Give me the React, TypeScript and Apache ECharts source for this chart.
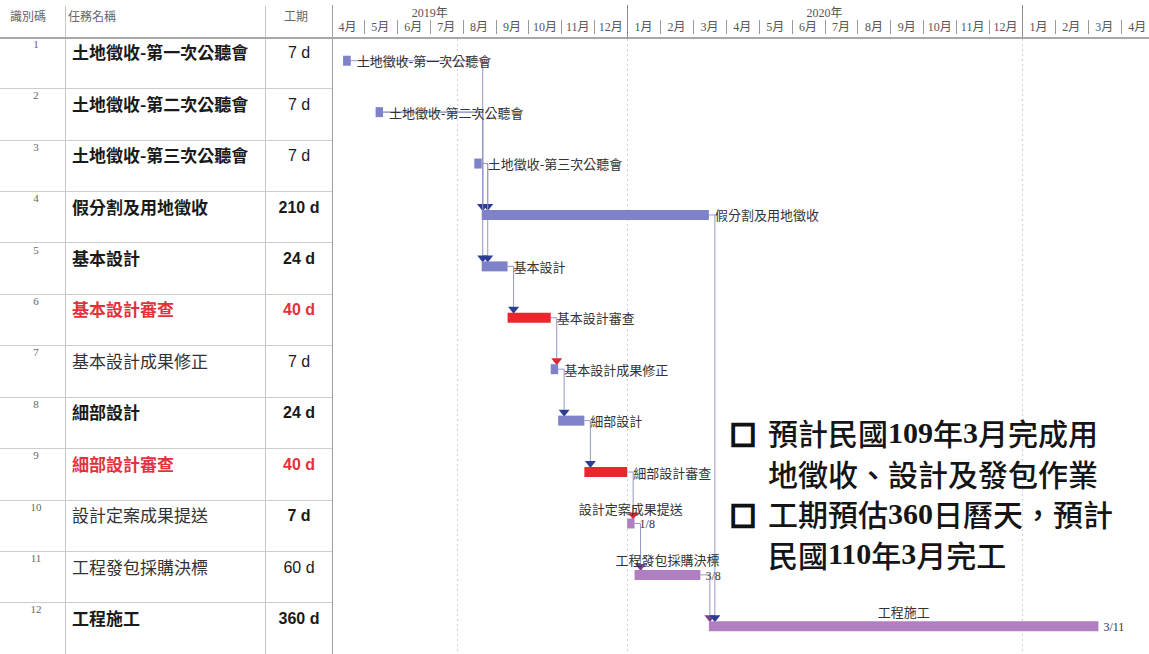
import React, { useEffect, useRef } from 'react';
import * as echarts from 'echarts';

// ---------------- data ----------------
const TASK_IDS = [1, 2, 3, 4, 5, 6, 7, 8, 9, 10, 11, 12];
const TASK_NAMES = [
  '土地徵收-第一次公聽會',
  '土地徵收-第二次公聽會',
  '土地徵收-第三次公聽會',
  '假分割及用地徵收',
  '基本設計',
  '基本設計審查',
  '基本設計成果修正',
  '細部設計',
  '細部設計審查',
  '設計定案成果提送',
  '工程發包採購決標',
  '工程施工',
];
const DURATIONS = [7, 7, 7, 210, 24, 40, 7, 24, 40, 7, 60, 360];
const START_DATES = [
  '2019-04-12', '2019-05-12', '2019-08-12', '2019-08-19', '2019-08-19', '2019-09-12',
  '2019-10-22', '2019-10-29', '2019-11-22', '2020-01-01', '2020-01-08', '2020-03-16',
];
const END_DATES = [
  '2019-04-19', '2019-05-19', '2019-08-19', '2020-03-16', '2019-09-12', '2019-10-22',
  '2019-10-29', '2019-11-22', '2020-01-01', '2020-01-08', '2020-03-08', '2021-03-11',
];
const TASK_KIND = ['plan', 'plan', 'plan', 'plan', 'plan', 'review', 'plan', 'plan', 'review', 'procure', 'procure', 'procure'];
const NAME_BOLD = [true, true, true, true, true, true, false, true, true, false, false, true];
const DURATION_BOLD = [false, false, false, true, true, true, false, true, true, true, false, true];
const FINISH_LABELS = ['', '', '', '', '', '', '', '', '', '1/8', '3/8', '3/11'];
// [predecessor id, successor id]
const LINKS = [
  [1, 4], [2, 4], [3, 4], [2, 5], [3, 5], [5, 6], [6, 7], [7, 8], [8, 9],
  [9, 10], [10, 11], [11, 12], [4, 12],
];
const MONTH_LABELS = [
  '4月', '5月', '6月', '7月', '8月', '9月', '10月', '11月', '12月',
  '1月', '2月', '3月', '4月', '5月', '6月', '7月', '8月', '9月', '10月', '11月', '12月',
  '1月', '2月', '3月', '4月',
];
const YEAR_LABELS = ['2019年', '2020年'];
const YEAR_MIDS = ['2019-07-01', '2020-07-01'];
const GUIDE_DATES = ['2019-07-27', '2020-01-01', '2021-01-01'];
const TABLE_HEADERS = ['識別碼', '任務名稱', '工期'];
const NOTE_LINES = [
  '預計民國109年3月完成用',
  '地徵收、設計及發包作業',
  '工期預估360日曆天，預計',
  '民國110年3月完工',
];
const NOTE_BULLETS = [true, false, true, false];

// ---------------- helpers ----------------
const BASE_YEAR = 2019;
const BASE_MONTH = 4;
function monthPos(s: string): number {
  const [y, m, d] = s.split('-').map(Number);
  const dim = new Date(y, m, 0).getDate();
  return (y - BASE_YEAR) * 12 + (m - BASE_MONTH) + (d - 1) / dim;
}

const KIND_COLOR: Record<string, string> = { plan: '#7f82c8', review: '#e8262b', procure: '#b07fc2' };
const ARROW_COLOR: Record<string, string> = { plan: '#2d3c94', review: '#e3242b', procure: '#7b3f8e' };
const CJK = "'Noto Sans CJK TC', 'Noto Sans CJK SC', sans-serif";
const SERIF = "'Liberation Serif', 'Noto Sans CJK TC', serif";
const SANS = "'Liberation Sans', 'Noto Sans CJK TC', sans-serif";

const X_MIN = 0.03;
const X_MAX = 24.86;
const GRID_TOP = 37;
const ROW_H = 51.7;
const TABLE_W = 332;
const BAR_H = 10;
const BAR_SHIFT = -2;

function buildOption() {
  const rows = TASK_NAMES.length;
  const gridH = rows * ROW_H;

  const barSeries = {
    type: 'custom',
    xAxisIndex: 0,
    yAxisIndex: 0,
    silent: true,
    z: 3,
    encode: { x: [1, 2], y: 0 },
    data: TASK_NAMES.map((_, i) => [i, monthPos(START_DATES[i]), monthPos(END_DATES[i])]),
    renderItem: (params: any, api: any) => {
      const i = api.value(0);
      const s = api.coord([api.value(1), i]);
      const e = api.coord([api.value(2), i]);
      const cy = s[1] + BAR_SHIFT;
      return {
        type: 'rect',
        shape: { x: s[0], y: cy - BAR_H / 2, width: Math.max(e[0] - s[0], 1), height: BAR_H },
        style: { fill: KIND_COLOR[TASK_KIND[i]] },
      };
    },
  };

  const barLabelSeries = {
    type: 'custom',
    xAxisIndex: 0,
    yAxisIndex: 0,
    silent: true,
    z: 5,
    encode: { x: [1, 2], y: 0 },
    data: TASK_NAMES.map((_, i) => [i, monthPos(START_DATES[i]), monthPos(END_DATES[i])]),
    renderItem: (params: any, api: any) => {
      const i = api.value(0);
      const s = api.coord([api.value(1), i]);
      const e = api.coord([api.value(2), i]);
      const cy = s[1] + BAR_SHIFT;
      const base = { fontFamily: CJK, fontSize: 13, fill: '#333' };
      if (FINISH_LABELS[i]) {
        return {
          type: 'group',
          children: [
            { type: 'text', x: (s[0] + e[0]) / 2, y: cy - 15, style: { ...base, lineHeight: 14, text: TASK_NAMES[i], align: 'center', verticalAlign: 'middle' } },
            { type: 'text', x: e[0] + 5, y: cy + 1, style: { fontFamily: SERIF, fontSize: 12, lineHeight: 13, fill: '#333', text: FINISH_LABELS[i], align: 'left', verticalAlign: 'middle' } },
          ],
        };
      }
      return {
        type: 'text',
        x: e[0] + 6,
        y: cy,
        style: { ...base, text: TASK_NAMES[i], align: 'left', verticalAlign: 'middle' },
      };
    },
  };

  const linkSeries = {
    type: 'custom',
    xAxisIndex: 0,
    yAxisIndex: 0,
    silent: true,
    z: 2,
    encode: { x: 0, y: 1 },
    data: LINKS.map((l, k) => [monthPos(END_DATES[l[0] - 1]), l[0] - 1, k]),
    renderItem: (params: any, api: any) => {
      const k = api.value(2);
      const p = LINKS[k][0] - 1;
      const q = LINKS[k][1] - 1;
      const pe = api.coord([monthPos(END_DATES[p]), p]);
      const qs = api.coord([monthPos(START_DATES[q]), q]);
      const py = pe[1] + BAR_SHIFT;
      const qTop = qs[1] + BAR_SHIFT - BAR_H / 2;
      const X = Math.max(pe[0] + 6, qs[0] + 1);
      const at = qTop - 6;
      return {
        type: 'group',
        children: [
          {
            type: 'polyline',
            shape: { points: [[pe[0], py], [X, py], [X, at]] },
            style: { stroke: '#9497c7', lineWidth: 1, fill: null },
          },
          {
            type: 'polygon',
            shape: { points: [[X - 5.5, at], [X + 5.5, at], [X, at + 7]] },
            style: { fill: ARROW_COLOR[TASK_KIND[p]] },
          },
        ],
      };
    },
  };

  const guideSeries = {
    type: 'custom',
    xAxisIndex: 0,
    yAxisIndex: 0,
    silent: true,
    z: 1,
    encode: { x: 0, y: 1 },
    data: GUIDE_DATES.map((d) => [monthPos(d), 0]),
    renderItem: (params: any, api: any) => {
      const cs = params.coordSys;
      const x = Math.round(api.coord([api.value(0), 0])[0]) + 0.5;
      return {
        type: 'line',
        shape: { x1: x, y1: cs.y + 2, x2: x, y2: cs.y + cs.height },
        style: { stroke: '#cfcfcf', lineWidth: 1, lineDash: [2, 3] },
      };
    },
  };

  const tableSeries = {
    type: 'custom',
    xAxisIndex: 1,
    yAxisIndex: 1,
    silent: true,
    z: 3,
    encode: { x: 1, y: 0 },
    data: TASK_NAMES.map((_, i) => [i, 0]),
    renderItem: (params: any, api: any) => {
      const i = api.value(0);
      const c = api.coord([0, i]);
      const top = c[1] - ROW_H / 2;
      const red = TASK_KIND[i] === 'review';
      const color = red ? '#e3323c' : NAME_BOLD[i] ? '#1a1a1a' : '#333';
      return {
        type: 'group',
        children: [
          {
            type: 'text',
            x: api.coord([36, i])[0],
            y: top + 7,
            style: { text: String(TASK_IDS[i]), fontFamily: SERIF, fontSize: 11, fill: '#666', align: 'center', verticalAlign: 'middle' },
          },
          {
            type: 'text',
            x: api.coord([72, i])[0],
            y: top + 15,
            style: { text: TASK_NAMES[i], fontFamily: CJK, fontSize: 17, fontWeight: NAME_BOLD[i] ? 'bold' : 'normal', fill: color, align: 'left', verticalAlign: 'middle' },
          },
          {
            type: 'text',
            x: api.coord([299, i])[0],
            y: top + 16,
            style: { text: DURATIONS[i] + ' d', fontFamily: SANS, fontSize: 16, fontWeight: DURATION_BOLD[i] ? 'bold' : 'normal', fill: red ? '#e3323c' : '#1a1a1a', align: 'center', verticalAlign: 'middle' },
          },
        ],
      };
    },
  };

  const monthSeries = {
    type: 'custom',
    xAxisIndex: 2,
    yAxisIndex: 2,
    silent: true,
    z: 3,
    encode: { x: 0, y: 1 },
    data: MONTH_LABELS.map((_, i) => [i, 0.5]),
    renderItem: (params: any, api: any) => {
      const i = api.value(0);
      const cs = params.coordSys;
      const x0 = api.coord([i, 0])[0];
      const x1 = api.coord([i + 1, 0])[0];
      const isYear = MONTH_LABELS[i] === '1月';
      const sx = Math.round(x0) + 0.5;
      const children: any[] = [
        {
          type: 'text',
          x: (x0 + x1) / 2,
          y: cs.y + 27,
          style: { text: MONTH_LABELS[i], fontFamily: SERIF, fontSize: 12, fill: '#555', align: 'center', verticalAlign: 'middle' },
        },
      ];
      if (i > 0) {
        children.push({
          type: 'line',
          shape: isYear ? { x1: sx, y1: cs.y + 5, x2: sx, y2: cs.y + 38 } : { x1: sx, y1: cs.y + 20, x2: sx, y2: cs.y + 34 },
          style: { stroke: isYear ? '#8a8a8a' : '#9a9a9a', lineWidth: 1 },
        });
      }
      return { type: 'group', children };
    },
  };

  const yearSeries = {
    type: 'custom',
    xAxisIndex: 2,
    yAxisIndex: 2,
    silent: true,
    z: 3,
    encode: { x: 0, y: 1 },
    data: YEAR_MIDS.map((d, i) => [monthPos(d), 0.5, i]),
    renderItem: (params: any, api: any) => {
      const cs = params.coordSys;
      const x = api.coord([api.value(0), 0])[0];
      return {
        type: 'text',
        x,
        y: cs.y + 13,
        style: { text: YEAR_LABELS[api.value(2)], fontFamily: SERIF, fontSize: 12, fill: '#555', align: 'center', verticalAlign: 'middle' },
      };
    },
  };

  const headerX = [28, 68, 296];
  const headerAlign = ['center', 'left', 'center'];

  const NOTE_LH = 40.5;
  const NOTE_FS = 30;
  const NOTE_TOP = 432 - NOTE_LH / 2;

  const graphic: any[] = [
    { type: 'line', silent: true, shape: { x1: 0, y1: 38, x2: 1149, y2: 38 }, style: { stroke: '#a8a8a8', lineWidth: 2 }, z: 10 },
    { type: 'line', silent: true, shape: { x1: 65.5, y1: 6, x2: 65.5, y2: 654 }, style: { stroke: '#c6c6c6', lineWidth: 1 } },
    { type: 'line', silent: true, shape: { x1: 265.5, y1: 6, x2: 265.5, y2: 654 }, style: { stroke: '#c6c6c6', lineWidth: 1 } },
    { type: 'line', silent: true, shape: { x1: 332.5, y1: 5, x2: 332.5, y2: 654 }, style: { stroke: '#a0a0a0', lineWidth: 1 } },
    ...TABLE_HEADERS.map((h, i) => ({
      type: 'text',
      silent: true,
      x: headerX[i],
      y: 15,
      style: { text: h, fontFamily: CJK, fontSize: 12, fill: '#666', align: headerAlign[i], verticalAlign: 'middle' },
    })),
    {
      type: 'text',
      silent: true,
      x: 743,
      y: NOTE_TOP + 1,
      z: 20,
      style: {
        text: NOTE_BULLETS.map((b) => (b ? '□' : ' ')).join('\n'),
        fontFamily: CJK,
        fontSize: 26,
        lineHeight: NOTE_LH,
        fontWeight: 'bold',
        fill: '#111',
        stroke: '#111',
        lineWidth: 2.6,
        align: 'center',
        verticalAlign: 'top',
      },
    },
    {
      type: 'text',
      silent: true,
      x: 768,
      y: NOTE_TOP,
      z: 20,
      style: {
        text: NOTE_LINES.map((l) => l.replace(/(\d+)/g, '{n|$1}')).join('\n'),
        fontFamily: CJK,
        fontSize: NOTE_FS,
        lineHeight: NOTE_LH,
        fontWeight: 500,
        fill: '#151515',
        align: 'left',
        verticalAlign: 'top',
        rich: { n: { fontFamily: "'Liberation Serif', serif", fontWeight: 'bold', fontSize: NOTE_FS, lineHeight: NOTE_LH, fill: '#151515' } },
      },
    },
  ];

  return {
    animation: false,
    backgroundColor: '#ffffff',
    grid: [
      { left: TABLE_W, top: GRID_TOP, width: 1149 - TABLE_W, height: gridH },
      { left: 0, top: GRID_TOP, width: TABLE_W, height: gridH },
      { left: TABLE_W, top: 0, width: 1149 - TABLE_W, height: GRID_TOP },
    ],
    xAxis: [
      { gridIndex: 0, type: 'value', min: X_MIN, max: X_MAX, show: false },
      { gridIndex: 1, type: 'value', min: 0, max: TABLE_W, show: false },
      { gridIndex: 2, type: 'value', min: X_MIN, max: X_MAX, show: false },
    ],
    yAxis: [
      { gridIndex: 0, type: 'category', data: TASK_NAMES, inverse: true, show: false },
      {
        gridIndex: 1,
        type: 'category',
        data: TASK_NAMES,
        inverse: true,
        axisLine: { show: false },
        axisTick: { show: false },
        axisLabel: { show: false },
        splitLine: { show: true, interval: 0, lineStyle: { color: '#cdcdcd', width: 1 } },
      },
      { gridIndex: 2, type: 'value', min: 0, max: 1, show: false },
    ],
    graphic,
    series: [guideSeries, linkSeries, barSeries, barLabelSeries, tableSeries, monthSeries, yearSeries],
  };
}

export default function App() {
  const ref = useRef<HTMLDivElement>(null);
  useEffect(() => {
    if (!ref.current) return;
    const chart = echarts.init(ref.current, null, { renderer: 'svg' });
    chart.setOption(buildOption() as any);
    return () => chart.dispose();
  }, []);
  return (
    <div
      ref={ref}
      style={{ position: 'absolute', left: 0, top: 0, width: 1149, height: 654, background: '#fff' }}
    />
  );
}
